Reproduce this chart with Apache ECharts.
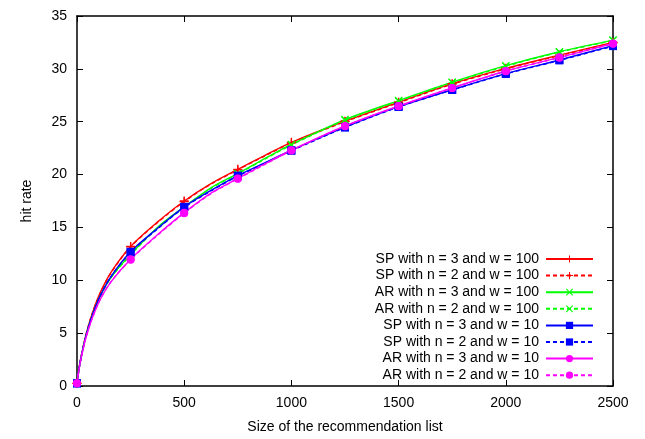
<!DOCTYPE html>
<html>
<head>
<meta charset="utf-8">
<script src="https://cdn.jsdelivr.net/npm/echarts@6/dist/echarts.min.js"></script>
<style>
  html, body { margin: 0; padding: 0; background: #fff; }
  #chart { width: 645px; height: 439px; }
</style>
</head>
<body>
<div id="chart"></div>
<script>
// x positions of the samples (markers only at multiples of 250)
var xs = [0, 10, 20, 40, 70, 110, 160, 250, 375, 500, 625, 750, 875, 1000, 1250, 1500, 1750, 2000, 2250, 2500];

// hit rate per configuration
var sp3w100 = [0.25, 1.75, 2.85, 4.7, 6.8, 8.9, 10.8, 13.2, 15.5, 17.5, 19.15, 20.5, 21.8, 23.05, 25.05, 26.85, 28.6, 30.05, 31.3, 32.5];
var sp2w100 = [0.25, 1.75, 2.85, 4.7, 6.8, 8.85, 10.75, 13.15, 15.45, 17.45, 19.1, 20.45, 21.75, 23.0, 25.0, 26.8, 28.55, 30.0, 31.25, 32.45];
var ar3w100 = [0.25, 1.7, 2.8, 4.6, 6.6, 8.6, 10.3, 12.45, 15.0, 16.95, 18.75, 20.1, 21.5, 22.85, 25.2, 27.0, 28.74, 30.3, 31.62, 32.72];
var ar2w100 = [0.25, 1.7, 2.8, 4.6, 6.6, 8.6, 10.3, 12.4, 14.95, 16.9, 18.7, 20.05, 21.45, 22.8, 25.15, 26.95, 28.7, 30.25, 31.58, 32.68];
var sp3w10 = [0.25, 1.7, 2.8, 4.6, 6.6, 8.6, 10.4, 12.7, 14.9, 16.95, 18.5, 19.9, 21.1, 22.3, 24.48, 26.42, 28.02, 29.55, 30.84, 32.2];
var sp2w10 = [0.25, 1.7, 2.8, 4.6, 6.6, 8.6, 10.4, 12.65, 14.85, 16.9, 18.45, 19.85, 21.05, 22.25, 24.45, 26.4, 28.0, 29.52, 30.8, 32.15];
var ar3w10 = [0.25, 1.65, 2.7, 4.45, 6.35, 8.25, 9.9, 12.0, 14.3, 16.4, 18.25, 19.63, 21.0, 22.3, 24.6, 26.49, 28.2, 29.8, 31.09, 32.4];
var ar2w10 = [0.25, 1.65, 2.7, 4.45, 6.35, 8.25, 9.9, 11.95, 14.25, 16.35, 18.2, 19.6, 20.95, 22.28, 24.58, 26.46, 28.18, 29.78, 31.06, 32.38];

var names = [
  'SP with n = 3 and w = 100',
  'SP with n = 2 and w = 100',
  'AR with n = 3 and w = 100',
  'AR with n = 2 and w = 100',
  'SP with n = 3 and w = 10',
  'SP with n = 2 and w = 10',
  'AR with n = 3 and w = 10',
  'AR with n = 2 and w = 10'
];

var plusPath = 'path://M4.3,0H5.7V4.3H10V5.7H5.7V10H4.3V5.7H0V4.3H4.3Z';
var crossPath = 'path://M1,0L5,4L9,0L10,1L6,5L10,9L9,10L5,6L1,10L0,9L4,5L0,1Z';

// 把每条曲线转成 [x, y]，只有 250 的倍数处显示标记
function toData(vals) {
  var arr = [];
  for (var i = 0; i < xs.length; i++) {
    var item = { value: [xs[i], vals[i]] };
    if (xs[i] % 250 !== 0) item.symbol = 'none';
    arr.push(item);
  }
  return arr;
}

function mkSeries(name, vals, color, symbol, size, dashed) {
  return {
    name: name,
    type: 'line',
    data: toData(vals),
    smooth: 0.3,
    symbol: symbol,
    symbolSize: size,
    showAllSymbol: true,
    clip: false,
    lineStyle: { color: color, width: 1.4, type: dashed ? [4, 3] : 'solid' },
    itemStyle: { color: color },
    emphasis: { disabled: true }
  };
}

var seriesList = [
  mkSeries(names[0], sp3w100, '#ff0000', plusPath, 9, false),
  mkSeries(names[1], sp2w100, '#ff0000', plusPath, 9, true),
  mkSeries(names[2], ar3w100, '#00ff00', crossPath, 8, false),
  mkSeries(names[3], ar2w100, '#00ff00', crossPath, 8, true),
  mkSeries(names[4], sp3w10, '#0000ff', 'rect', 8, false),
  mkSeries(names[5], sp2w10, '#0000ff', 'rect', 8, true),
  mkSeries(names[6], ar3w10, '#ff00ff', 'circle', 8, false),
  mkSeries(names[7], ar2w10, '#ff00ff', 'circle', 8, true)
];

var axisFont = { color: '#000', fontSize: 14, fontFamily: 'Liberation Sans' };
var frameLine = { show: true, onZero: false, lineStyle: { color: '#000', width: 1.5 } };
var tickIn = { show: true, inside: true, length: 6, lineStyle: { color: '#000', width: 1 } };

var option = {
  animation: false,
  backgroundColor: '#fff',
  grid: { left: 77, right: 32, top: 16, bottom: 51 },
  legend: {
    data: names,
    orient: 'vertical',
    right: 46,
    top: 247,
    align: 'right',
    itemWidth: 47,
    itemHeight: 9,
    itemGap: 2.6,
    textStyle: { color: '#000', fontSize: 14, lineHeight: 14, fontFamily: 'Liberation Sans', padding: [0, 2, 0, 0] },
    selectedMode: false
  },
  xAxis: [{
    type: 'value',
    min: 0,
    max: 2500,
    interval: 500,
    name: 'Size of the recommendation list',
    nameLocation: 'middle',
    nameGap: 34,
    nameTextStyle: axisFont,
    axisLine: frameLine,
    axisTick: tickIn,
    axisLabel: Object.assign({ margin: 10, formatter: function (v) { return String(v); } }, axisFont),
    splitLine: { show: false }
  }, {
    type: 'value',
    position: 'top',
    min: 0,
    max: 2500,
    interval: 500,
    axisLine: frameLine,
    axisTick: tickIn,
    axisLabel: { show: false },
    splitLine: { show: false }
  }],
  yAxis: [{
    type: 'value',
    min: 0,
    max: 35,
    interval: 5,
    name: 'hit rate',
    nameLocation: 'middle',
    nameGap: 43,
    nameTextStyle: axisFont,
    axisLine: frameLine,
    axisTick: tickIn,
    axisLabel: Object.assign({ margin: 10 }, axisFont),
    splitLine: { show: false }
  }, {
    type: 'value',
    position: 'right',
    min: 0,
    max: 35,
    interval: 5,
    axisLine: frameLine,
    axisTick: tickIn,
    axisLabel: { show: false },
    splitLine: { show: false }
  }],
  series: seriesList
};

var myChart = echarts.init(document.getElementById('chart'), null, { renderer: 'canvas' });
myChart.setOption(option);
</script>
</body>
</html>
